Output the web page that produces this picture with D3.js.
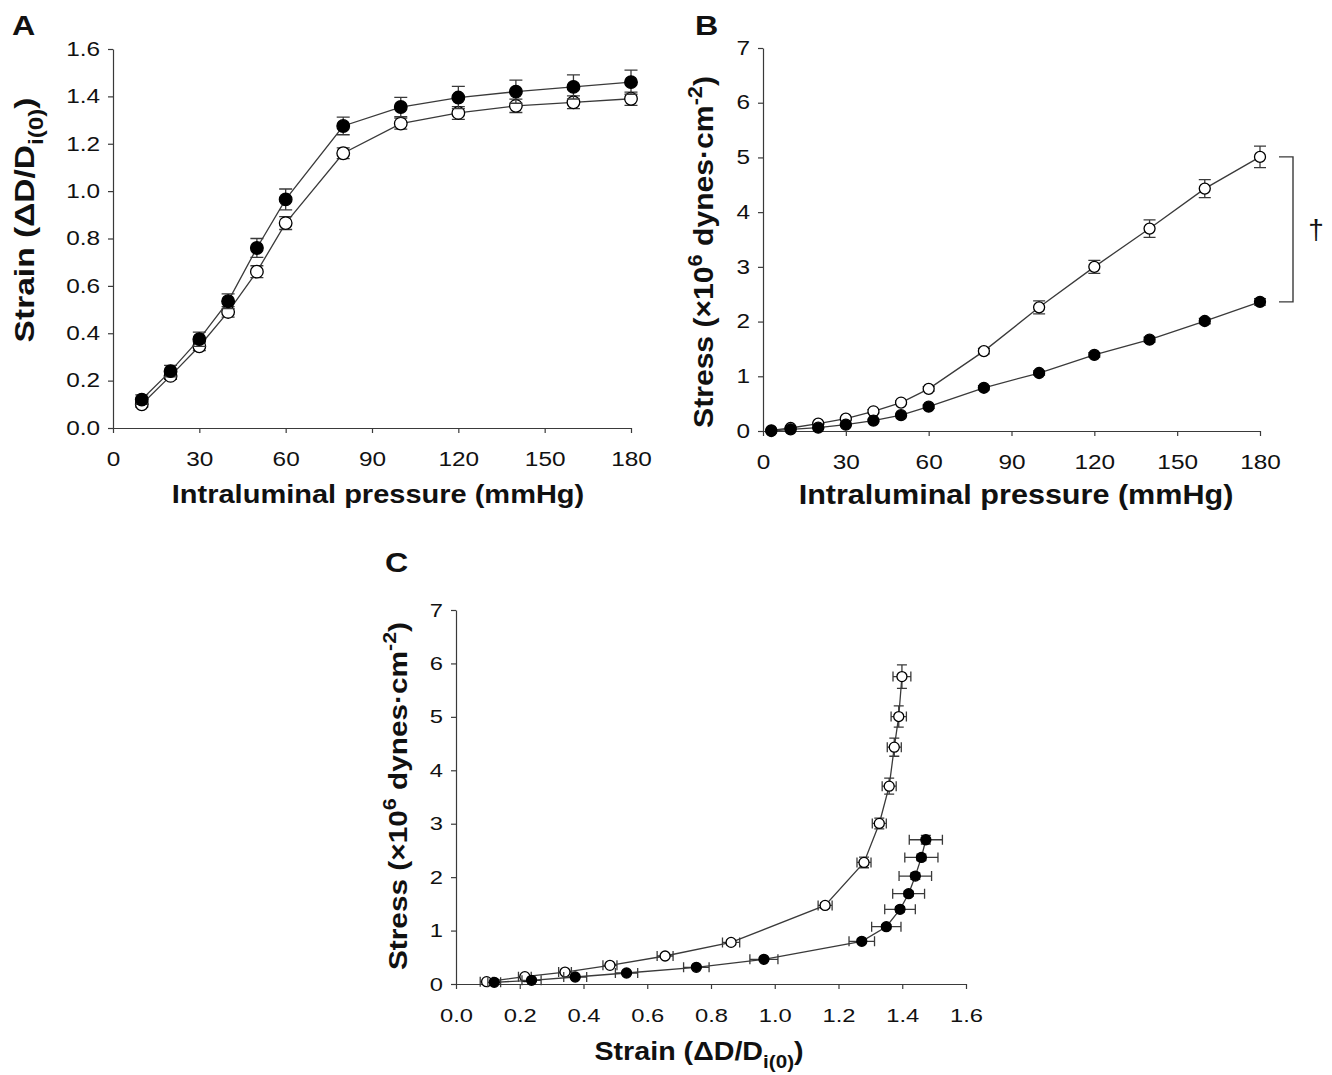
<!DOCTYPE html>
<html>
<head>
<meta charset="utf-8">
<script src="https://cdn.jsdelivr.net/npm/d3@7"></script>
<style>
  body { margin: 0; background: #fff; }
  svg text { font-family: "Liberation Sans", Arial, sans-serif; fill: #111; }
</style>
</head>
<body>
<div id="chart"></div>
<script>
// panel A: strain vs pressure
var pressureA = [10, 20, 30, 40, 50, 60, 80, 100, 120, 140, 160, 180];
var strainFilled = [0.12, 0.24, 0.375, 0.535, 0.76, 0.965, 1.275, 1.355, 1.395, 1.42, 1.44, 1.46];
var strainFilledErr = [0.02, 0.024, 0.03, 0.031, 0.04, 0.044, 0.037, 0.041, 0.047, 0.049, 0.051, 0.051];
var strainOpen = [0.10, 0.22, 0.345, 0.49, 0.66, 0.865, 1.16, 1.285, 1.33, 1.36, 1.375, 1.39];
var strainOpenErr = [0.012, 0.015, 0.018, 0.022, 0.025, 0.027, 0.023, 0.023, 0.027, 0.028, 0.027, 0.028];

// panel B: stress vs pressure
var pressureB = [3, 10, 20, 30, 40, 50, 60, 80, 100, 120, 140, 160, 180];
var stressOpen = [0.01, 0.055, 0.135, 0.225, 0.36, 0.52, 0.77, 1.46, 2.26, 3.0, 3.7, 4.43, 5.01];
var stressOpenErr = [0.01, 0.01, 0.015, 0.02, 0.03, 0.03, 0.04, 0.05, 0.12, 0.12, 0.16, 0.165, 0.195];
var stressFilled = [0.0, 0.03, 0.06, 0.115, 0.19, 0.29, 0.445, 0.79, 1.06, 1.39, 1.67, 2.01, 2.36];
var stressFilledErr = [0.005, 0.01, 0.01, 0.015, 0.02, 0.02, 0.03, 0.04, 0.04, 0.04, 0.045, 0.05, 0.06];

// panel C: stress vs strain
var strainCOpen = [0.096, 0.216, 0.342, 0.483, 0.656, 0.863, 1.158, 1.28, 1.328, 1.359, 1.375, 1.389, 1.399];
var strainCOpenErr = [0.02, 0.02, 0.02, 0.022, 0.025, 0.027, 0.022, 0.022, 0.022, 0.022, 0.022, 0.024, 0.028];
var stressCOpen = [0.044, 0.137, 0.224, 0.349, 0.524, 0.779, 1.471, 2.276, 3.005, 3.703, 4.433, 5.006, 5.754];
var stressCOpenErr = [0.02, 0.02, 0.02, 0.03, 0.03, 0.04, 0.05, 0.1, 0.1, 0.15, 0.17, 0.2, 0.22];
var strainCFilled = [0.12, 0.237, 0.374, 0.535, 0.754, 0.966, 1.273, 1.35, 1.393, 1.42, 1.441, 1.46, 1.474];
var strainCFilledErr = [0.02, 0.03, 0.036, 0.035, 0.04, 0.044, 0.04, 0.046, 0.048, 0.05, 0.051, 0.052, 0.052];
var stressCFilled = [0.031, 0.069, 0.131, 0.206, 0.312, 0.461, 0.798, 1.072, 1.397, 1.69, 2.02, 2.369, 2.70];
var stressCFilledErr = [0.01, 0.01, 0.01, 0.02, 0.02, 0.03, 0.04, 0.04, 0.05, 0.05, 0.06, 0.06, 0.08];

var pressureTicks = [0, 30, 60, 90, 120, 150, 180];
var strainTicks = [0, 0.2, 0.4, 0.6, 0.8, 1.0, 1.2, 1.4, 1.6];
var stressTicks = [0, 1, 2, 3, 4, 5, 6, 7];

var width = 1332, height = 1075;
var ink = "#3a3a3a";
var tickSx = 1.25;  // the figure's type is wider than Arial, stretch along the text
var titleSx = 1.12;

var svg = d3.select("#chart").append("svg")
    .attr("width", width)
    .attr("height", height);

function zip(xs, ys, xe, ye) {
    return xs.map(function (v, i) {
        return { x: v, y: ys[i], xe: xe ? xe[i] : 0, ye: ye ? ye[i] : 0 };
    });
}

// title with sub / superscripts: parts = [[text, "sub"|"sup"|null], ...]
function richText(sel, parts, size) {
    var shift = 0;
    parts.forEach(function (p) {
        var t = sel.append("tspan").text(p[0]);
        var target = p[1] === "sub" ? size * 0.32 : p[1] === "sup" ? -size * 0.42 : 0;
        t.attr("dy", target - shift);
        if (p[1]) t.attr("font-size", size * 0.72);
        shift = target;
    });
}

function drawPanel(cfg) {
    var g = svg.append("g");
    var x = d3.scaleLinear().domain(cfg.xDomain).range(cfg.xRange);
    var y = d3.scaleLinear().domain(cfg.yDomain).range(cfg.yRange);

    var xAxis = d3.axisBottom(x).tickValues(cfg.xTicks).tickSize(5).tickSizeOuter(0)
        .tickPadding(cfg.xPad).tickFormat(cfg.xFormat);
    var yAxis = d3.axisLeft(y).tickValues(cfg.yTicks).tickSize(5).tickSizeOuter(0)
        .tickPadding(8).tickFormat(cfg.yFormat);

    var gx = g.append("g")
        .attr("transform", "translate(0," + cfg.yRange[0] + ")")
        .call(xAxis);
    var gy = g.append("g")
        .attr("transform", "translate(" + cfg.xRange[0] + ",0)")
        .call(yAxis);
    [gx, gy].forEach(function (a) {
        a.selectAll("path, line").attr("stroke", ink).attr("stroke-width", 1.2);
        a.selectAll("text").attr("font-size", cfg.tickSize).attr("fill", "#111");
    });
    gx.selectAll(".tick text").each(function () {
        var t = d3.select(this), ty = +t.attr("y");
        t.attr("y", 0).attr("transform", "translate(0," + ty + ") scale(" + tickSx + ",1)");
    });
    gy.selectAll(".tick text").each(function () {
        var t = d3.select(this), tx = +t.attr("x");
        t.attr("x", 0).attr("transform", "translate(" + tx + ",0) scale(" + tickSx + ",1)");
    });

    var line = d3.line()
        .x(function (d) { return x(d.x); })
        .y(function (d) { return y(d.y); });

    cfg.series.forEach(function (s) {
        var sg = g.append("g");
        var cap = cfg.cap;

        // vertical error bars
        sg.selectAll("path.ey").data(s.data.filter(function (d) { return d.ye > 0; }))
            .enter().append("path").attr("class", "ey")
            .attr("fill", "none").attr("stroke", ink).attr("stroke-width", 1.3)
            .attr("d", function (d) {
                var cx = x(d.x), y1 = y(d.y + d.ye), y2 = y(d.y - d.ye);
                return "M" + (cx - cap) + "," + y1 + "H" + (cx + cap) +
                    "M" + cx + "," + y1 + "V" + y2 +
                    "M" + (cx - cap) + "," + y2 + "H" + (cx + cap);
            });
        // horizontal error bars
        sg.selectAll("path.ex").data(s.data.filter(function (d) { return d.xe > 0; }))
            .enter().append("path").attr("class", "ex")
            .attr("fill", "none").attr("stroke", ink).attr("stroke-width", 1.3)
            .attr("d", function (d) {
                var cy = y(d.y), x1 = x(d.x - d.xe), x2 = x(d.x + d.xe);
                return "M" + x1 + "," + (cy - cap) + "V" + (cy + cap) +
                    "M" + x1 + "," + cy + "H" + x2 +
                    "M" + x2 + "," + (cy - cap) + "V" + (cy + cap);
            });

        sg.append("path").datum(s.data)
            .attr("fill", "none").attr("stroke", ink).attr("stroke-width", 1.3)
            .attr("d", line);

        sg.selectAll("circle").data(s.data).enter().append("circle")
            .attr("cx", function (d) { return x(d.x); })
            .attr("cy", function (d) { return y(d.y); })
            .attr("r", cfg.r)
            .attr("fill", s.filled ? "#000" : "#fff")
            .attr("stroke", "#000")
            .attr("stroke-width", 1.3);
    });

    // axis titles
    var xt = g.append("text")
        .attr("transform", "translate(" + cfg.xTitlePos[0] + "," + cfg.xTitlePos[1] + ") scale(" + titleSx + ",1)")
        .attr("text-anchor", "middle").attr("font-size", cfg.xTitleSize).attr("font-weight", "bold");
    richText(xt, cfg.xTitle, cfg.xTitleSize);

    var yt = g.append("text")
        .attr("transform", "translate(" + cfg.yTitlePos[0] + "," + cfg.yTitlePos[1] + ") rotate(-90) scale(" + cfg.yTitleSx + ",1)")
        .attr("text-anchor", "middle").attr("font-size", cfg.yTitleSize).attr("font-weight", "bold");
    richText(yt, cfg.yTitle, cfg.yTitleSize);

    g.append("text")
        .attr("transform", "translate(" + cfg.letterPos[0] + "," + cfg.letterPos[1] + ") scale(1.15,1)")
        .attr("font-size", 28).attr("font-weight", "bold")
        .text(cfg.letter);

    return { x: x, y: y, g: g };
}

var fmt1 = d3.format(".1f");
var fmt0 = d3.format("d");
var strainTitle = [["Strain (\u0394D/D", null], ["i(0)", "sub"], [")", null]];
var stressTitle = [["Stress (\u00d710", null], ["6", "sup"], [" dynes\u00b7cm", null], ["-2", "sup"], [")", null]];
var pressureTitle = [["Intraluminal pressure (mmHg)", null]];

drawPanel({
    letter: "A", letterPos: [12, 35],
    xDomain: [0, 180], xRange: [113, 631], xTicks: pressureTicks, xFormat: fmt0, xPad: 19,
    yDomain: [0, 1.6], yRange: [428, 49], yTicks: strainTicks, yFormat: fmt1,
    tickSize: 19.5,
    xTitle: pressureTitle, xTitlePos: [378, 503], xTitleSize: 25.9,
    yTitle: strainTitle, yTitlePos: [34, 220], yTitleSize: 27.5, yTitleSx: 1.22,
    r: 6.3, cap: 6.5,
    series: [
        { filled: false, data: zip(pressureA, strainOpen, null, strainOpenErr) },
        { filled: true, data: zip(pressureA, strainFilled, null, strainFilledErr) }
    ]
});

var pb = drawPanel({
    letter: "B", letterPos: [695, 35],
    xDomain: [0, 180], xRange: [763, 1260], xTicks: pressureTicks, xFormat: fmt0, xPad: 19,
    yDomain: [0, 7], yRange: [431, 48], yTicks: stressTicks, yFormat: fmt0,
    tickSize: 19.5,
    xTitle: pressureTitle, xTitlePos: [1016, 504], xTitleSize: 27.3,
    yTitle: stressTitle, yTitlePos: [713, 252], yTitleSize: 26.9, yTitleSx: titleSx,
    r: 5.5, cap: 6,
    series: [
        { filled: false, data: zip(pressureB, stressOpen, null, stressOpenErr) },
        { filled: true, data: zip(pressureB, stressFilled, null, stressFilledErr) }
    ]
});

// significance bracket between the two curves at 180 mmHg
var last = pressureB.length - 1;
var bTop = pb.y(stressOpen[last]), bBot = pb.y(stressFilled[last]);
var bx = pb.x(pressureB[last]);
pb.g.append("path")
    .attr("fill", "none").attr("stroke", ink).attr("stroke-width", 1.4)
    .attr("d", "M" + (bx + 19) + "," + bTop + "H" + (bx + 33) + "V" + bBot + "H" + (bx + 19));
pb.g.append("text")
    .attr("x", bx + 56).attr("y", (bTop + bBot) / 2 + 10)
    .attr("text-anchor", "middle").attr("font-size", 28)
    .text("\u2020");

drawPanel({
    letter: "C", letterPos: [385, 572],
    xDomain: [0, 1.6], xRange: [456, 966], xTicks: strainTicks, xFormat: fmt1, xPad: 19,
    yDomain: [0, 7], yRange: [984, 610], yTicks: stressTicks, yFormat: fmt0,
    tickSize: 19,
    xTitle: strainTitle, xTitlePos: [699, 1060], xTitleSize: 25.6,
    yTitle: stressTitle, yTitlePos: [407, 796], yTitleSize: 26.6, yTitleSx: titleSx,
    r: 5, cap: 5,
    series: [
        { filled: false, data: zip(strainCOpen, stressCOpen, strainCOpenErr, stressCOpenErr) },
        { filled: true, data: zip(strainCFilled, stressCFilled, strainCFilledErr, stressCFilledErr) }
    ]
});
</script>
</body>
</html>
